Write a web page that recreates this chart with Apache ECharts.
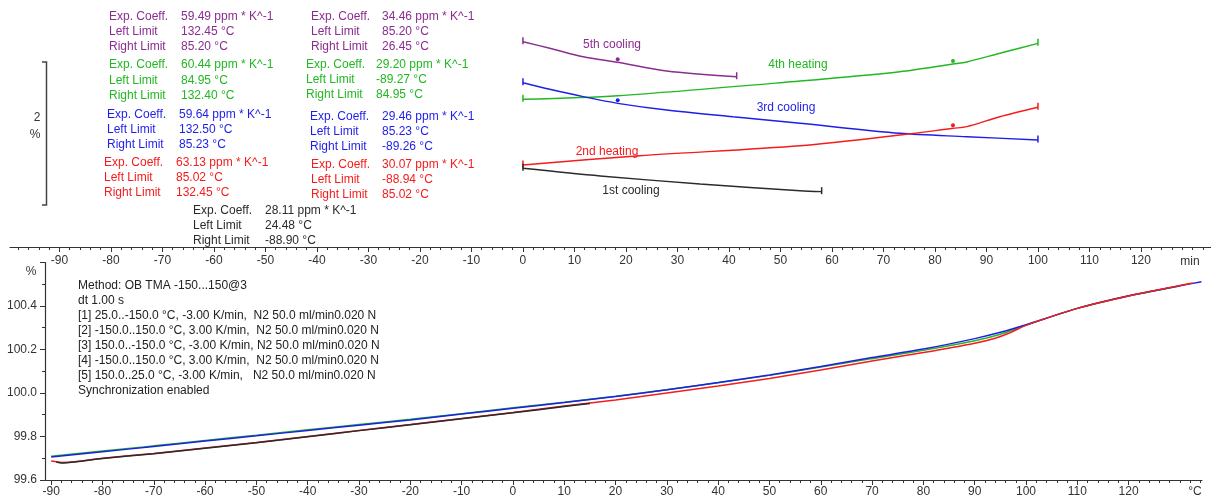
<!DOCTYPE html>
<html><head><meta charset="utf-8">
<script src="https://cdn.jsdelivr.net/npm/echarts@6/dist/echarts.min.js"></script>
<style>html,body{margin:0;padding:0;background:#fff}#c{width:1211px;height:499px}</style>
</head><body><div id="c"></div>
<script>
// ---------- tick labels ----------
const tempTicks = [-90,-80,-70,-60,-50,-40,-30,-20,-10,0,10,20,30,40,50,60,70,80,90,100,110,120];
const timeTicks = [-90,-80,-70,-60,-50,-40,-30,-20,-10,0,10,20,30,40,50,60,70,80,90,100,110,120];
const pctTicks = [99.6,99.8,100.0,100.2,100.4];

// ---------- bottom panel: length change (%) vs temperature (°C) ----------
const cool1 = [[-89,99.683],[-88,99.678],[-85,99.684],[-80,99.699],[-70,99.721],[-60,99.746],[-50,99.771],[-40,99.799],[-30,99.827],[-20,99.854],[-10,99.882],[0,99.909],[10,99.938],[15,99.952]];
const heat2 = [[-90,99.687],[-88,99.681],[-85,99.685],[-80,99.700],[-70,99.722],[-60,99.747],[-50,99.772],[-40,99.800],[-30,99.828],[-20,99.855],[-10,99.883],[0,99.910],[10,99.940],[20,99.968],[30,100.000],[40,100.032],[50,100.067],[60,100.106],[70,100.147],[80,100.186],[90,100.229],[94,100.252],[97,100.278],[100,100.311],[110,100.389],[120,100.446],[130,100.494],[132.5,100.506]];
const cool3 = [[-90,99.706],[-80,99.730],[-70,99.754],[-60,99.779],[-50,99.803],[-40,99.828],[-30,99.852],[-20,99.876],[-10,99.903],[0,99.930],[10,99.956],[20,99.984],[30,100.015],[40,100.048],[50,100.083],[60,100.122],[70,100.163],[80,100.202],[90,100.250],[95,100.279],[100,100.314],[110,100.389],[120,100.447],[130,100.493],[134.2,100.511]];
const heat4 = [[-90,99.709],[-80,99.733],[-72,99.752],[-70,99.757],[-60,99.782],[-50,99.806],[-40,99.831],[-30,99.855],[-20,99.879],[-10,99.905],[0,99.932],[10,99.958],[20,99.985],[30,100.015],[40,100.047],[50,100.081],[60,100.119],[70,100.158],[80,100.196],[90,100.240],[95,100.270],[100,100.312],[110,100.389],[120,100.446],[130,100.492]];

// ---------- top panel: segments vs time (min), offset in % ----------
const seg1t = [0,15,34.4,53.8,58];
const seg1v = [1.115,1.006,0.893,0.798,0.784];
const seg2t = [0,22.7,53.8,74.4,83.5,86.2,92.6,100];
const seg2v = [1.162,1.294,1.435,1.597,1.682,1.705,1.846,1.980];
const seg3t = [0,5.2,11.7,18.4,27.9,40.8,53.8,73.2,86.2,100];
const seg3v = [2.328,2.235,2.130,2.036,1.941,1.846,1.753,1.611,1.563,1.516];
const seg4t = [0,18.4,53.8,73.2,83.5,86.2,92.6,100];
const seg4v = [2.093,2.144,2.352,2.484,2.593,2.622,2.745,2.886];
const seg5t = [0,5.2,11.7,18.4,27.9,41.5];
const seg5v = [2.909,2.816,2.696,2.617,2.494,2.413];
// index of the limit marker point in each segment (-1 = none)
const seg1mark = -1, seg2mark = 4, seg3mark = 3, seg4mark = 4, seg5mark = 3;

const segNames = ['1st cooling','2nd heating','3rd cooling','4th heating','5th cooling'];

// ---------- evaluation texts ----------
const rowLabels = ['Exp. Coeff.','Left Limit','Right Limit'];
const evPurple1 = ['59.49 ppm * K^-1','132.45 °C','85.20 °C'];
const evPurple2 = ['34.46 ppm * K^-1','85.20 °C','26.45 °C'];
const evGreen1 = ['60.44 ppm * K^-1','84.95 °C','132.40 °C'];
const evGreen2 = ['29.20 ppm * K^-1','-89.27 °C','84.95 °C'];
const evBlue1 = ['59.64 ppm * K^-1','132.50 °C','85.23 °C'];
const evBlue2 = ['29.46 ppm * K^-1','85.23 °C','-89.26 °C'];
const evRed1 = ['63.13 ppm * K^-1','85.02 °C','132.45 °C'];
const evRed2 = ['30.07 ppm * K^-1','-88.94 °C','85.02 °C'];
const evBlack = ['28.11 ppm * K^-1','24.48 °C','-88.90 °C'];

const methodLines = [
 'Method: OB TMA -150...150@3',
 'dt 1.00 s',
 '[1] 25.0..-150.0 °C, -3.00 K/min,  N2 50.0 ml/min0.020 N',
 '[2] -150.0..150.0 °C, 3.00 K/min,  N2 50.0 ml/min0.020 N',
 '[3] 150.0..-150.0 °C, -3.00 K/min, N2 50.0 ml/min0.020 N',
 '[4] -150.0..150.0 °C, 3.00 K/min,  N2 50.0 ml/min0.020 N',
 '[5] 150.0..25.0 °C, -3.00 K/min,   N2 50.0 ml/min0.020 N',
 'Synchronization enabled'
];

const C = {purple:'#8B2D90', green:'#22B822', blue:'#1E1EEA', red:'#F41C1C', black:'#2a2a2a', axis:'#333'};
const FONT = '"Liberation Sans", Arial, sans-serif';
const F12 = '12px "Liberation Sans", Arial, sans-serif';

function minorList(a,b,step){const r=[];for(let v=a;v<=b+1e-9;v+=step)r.push(+v.toFixed(3));return r;}

function segData(ts, vs, mark){
  return ts.map((t,i)=>{
    const it = {value:[t,vs[i]]};
    if (i===0 || i===ts.length-1) { it.symbol='rect'; it.symbolSize=[1.5,7]; it.symbolOffset=[0,-1]; }
    else if (i===mark) { it.symbol='circle'; it.symbolSize=4; it.symbolOffset=[0,-3]; }
    else it.symbol='none';
    return it;
  });
}

function topSeries(ts,vs,mark,color){
  return {type:'line', xAxisIndex:0, yAxisIndex:0, data:segData(ts,vs,mark), smooth:0.3,
    showSymbol:true, symbol:'none', itemStyle:{color:color}, lineStyle:{color:color,width:1.4},
    animation:false, silent:true};
}
function botSeries(d,color){
  return {type:'line', xAxisIndex:2, yAxisIndex:1, data:d, smooth:0.2, showSymbol:false, symbol:'none',
    lineStyle:{color:color,width:1.5}, animation:false, silent:true};
}

const graphics = [];
function txt(x,y,text,fill,align){
  graphics.push({type:'text', x:x, y:y, silent:true,
    style:{text:text, fill:fill, font:F12, align:align||'left', verticalAlign:'middle'}});
}
function block(lx,vx,ys,vals,color){
  rowLabels.forEach((l,i)=>{ txt(lx,ys[i],l,color); txt(vx,ys[i],vals[i],color); });
}
block(109,181,[17,32,47],evPurple1,C.purple);
block(311,382,[17,32,47],evPurple2,C.purple);
block(109,181,[65,80.5,95.5],evGreen1,C.green);
block(306,376,[65,80,95],evGreen2,C.green);
block(107,179,[114.5,129.5,144.5],evBlue1,C.blue);
block(310,382,[117,132,147],evBlue2,C.blue);
block(104,176,[163,178,193],evRed1,C.red);
block(311,382,[165,180,195],evRed2,C.red);
block(193,265,[211,226,241],evBlack,C.black);
// segment names
txt(612,45,segNames[4],C.purple,'center');
txt(798,65,segNames[3],C.green,'center');
txt(786,108,segNames[2],C.blue,'center');
txt(607,152,segNames[1],C.red,'center');
txt(631,191,segNames[0],C.black,'center');
// scale bar
graphics.push({type:'polyline', silent:true, shape:{points:[[42,62],[46.5,62],[46.5,205],[42,205]]}, style:{stroke:'#444',lineWidth:1.5,fill:null}});
txt(37,118,'2',C.axis,'center');
txt(35,135,'%',C.axis,'center');
// method text
methodLines.forEach((l,i)=>txt(78,286+i*14.9,l,'#222'));
// axis unit labels
txt(1190,262,'min',C.axis,'center');
txt(1195,492,'°C',C.axis,'center');
txt(31,272,'%',C.axis,'center');

const axLine = {show:true, onZero:false, lineStyle:{color:C.axis,width:1.2}};
const option = {
  animation:false,
  backgroundColor:'#fff',
  grid:[
    {left:10, top:0, width:1201, height:247},
    {left:45, top:262.5, width:1157, height:217.5}
  ],
  xAxis:[
    {gridIndex:0, type:'value', min:-99.6, max:133.6, position:'bottom', axisLine:axLine,
     axisTick:{show:true, customValues:timeTicks, length:5, lineStyle:{color:C.axis}},
     axisLabel:{customValues:timeTicks, margin:8, color:C.axis, fontSize:12, fontFamily:FONT},
     splitLine:{show:false}},
    {gridIndex:0, type:'value', min:-99.6, max:133.6, position:'bottom', offset:0, axisLine:{show:false, onZero:false},
     axisTick:{show:true, customValues:minorList(-98,132,2), length:3, lineStyle:{color:C.axis}},
     axisLabel:{show:false}, splitLine:{show:false}},
    {gridIndex:1, type:'value', min:-91.2, max:134.3, position:'bottom', axisLine:axLine,
     axisTick:{show:true, customValues:tempTicks, length:5, lineStyle:{color:C.axis}},
     axisLabel:{customValues:tempTicks, margin:6, color:C.axis, fontSize:12, fontFamily:FONT},
     splitLine:{show:false}},
    {gridIndex:1, type:'value', min:-91.2, max:134.3, position:'bottom', offset:0, axisLine:{show:false, onZero:false},
     axisTick:{show:true, customValues:minorList(-90,134,2), length:3, lineStyle:{color:C.axis}},
     axisLabel:{show:false}, splitLine:{show:false}}
  ],
  yAxis:[
    {gridIndex:0, type:'value', min:0, max:3.5, show:false, axisLine:{onZero:false}},
    {gridIndex:1, type:'value', min:99.6, max:100.6, interval:0.2, position:'left', axisLine:axLine,
     axisTick:{show:true, length:5, lineStyle:{color:C.axis}},
     minorTick:{show:true, splitNumber:2, length:3, lineStyle:{color:C.axis}},
     axisLabel:{customValues:pctTicks, formatter:v=>v.toFixed(1), margin:8, color:C.axis, fontSize:12, fontFamily:FONT},
     splitLine:{show:false}, minorSplitLine:{show:false}}
  ],
  series:[
    topSeries(seg5t,seg5v,seg5mark,C.purple),
    topSeries(seg4t,seg4v,seg4mark,C.green),
    topSeries(seg3t,seg3v,seg3mark,C.blue),
    topSeries(seg2t,seg2v,seg2mark,C.red),
    topSeries(seg1t,seg1v,seg1mark,C.black),
    botSeries(heat4,C.green),
    botSeries(cool3,C.blue),
    botSeries(heat2,C.red),
    botSeries(cool1,C.black)
  ],
  graphic:graphics
};
const chart = echarts.init(document.getElementById('c'), null, {renderer:'canvas'});
chart.setOption(option);
</script></body></html>
